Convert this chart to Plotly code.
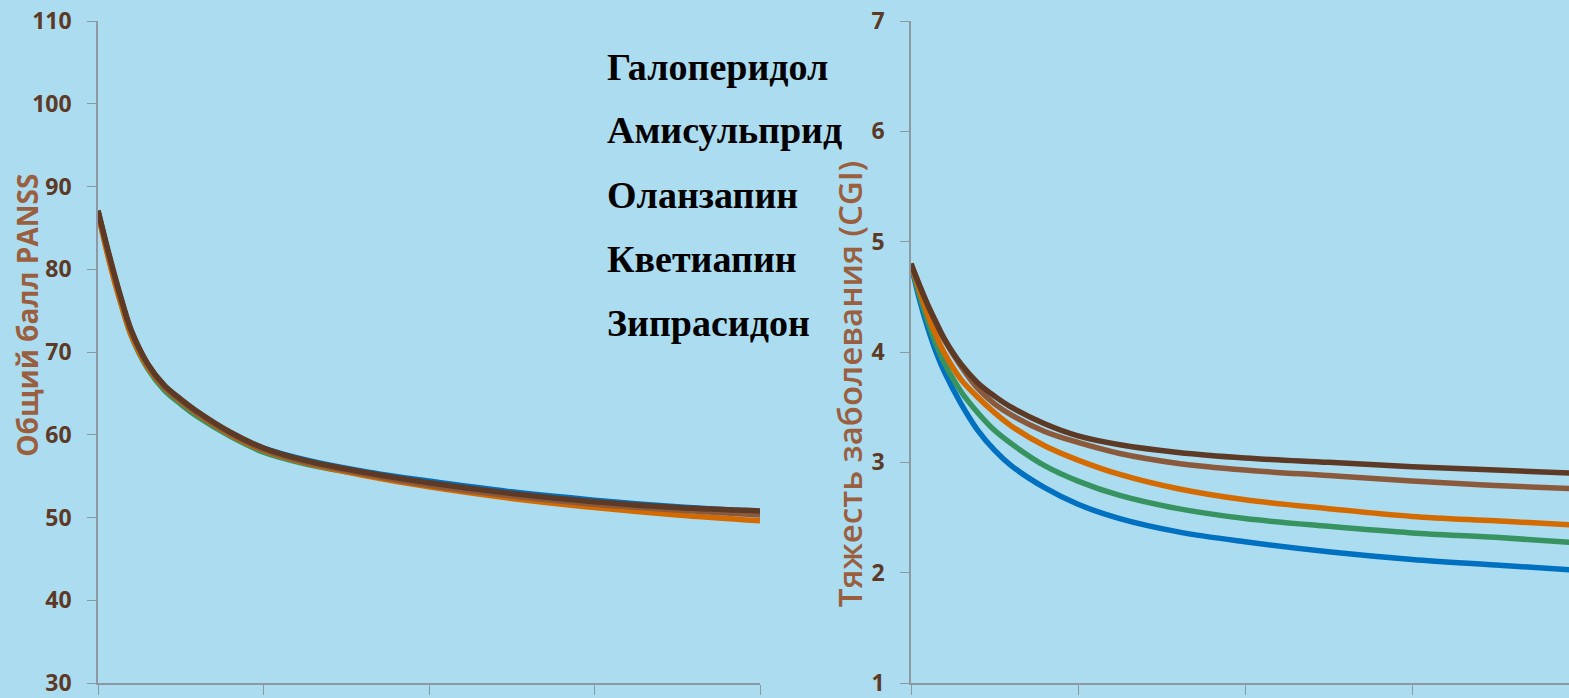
import plotly.graph_objects as go

# Time points (arbitrary units along the unlabeled x axis)
t = [0, 0.05, 0.1, 0.15, 0.2, 0.3, 0.4, 0.5, 0.6, 0.8, 1.0, 1.25, 1.6, 2.0, 2.5, 3.0, 3.5, 4.0]

drugs = ["Галоперидол", "Амисульприд", "Оланзапин", "Кветиапин", "Зипрасидон"]

# Total PANSS score
panss_blue = [87.0, 82.9, 79.1, 75.6, 72.5, 68.5, 65.9, 64.2, 62.7, 60.2, 58.4, 57.0, 55.6, 54.4, 53.1, 52.1, 51.3, 50.7]
panss_green = [86.9, 82.6, 78.7, 75.1, 72.0, 68.0, 65.4, 63.7, 62.2, 59.8, 57.9, 56.5, 55.2, 54.0, 52.8, 51.8, 51.0, 50.5]
panss_orange = [86.8, 82.4, 78.5, 75.1, 72.1, 68.2, 65.7, 64.0, 62.5, 60.0, 58.1, 56.6, 55.1, 53.7, 52.3, 51.2, 50.3, 49.6]
panss_ltbrown = [87.0, 82.9, 79.1, 75.6, 72.5, 68.4, 65.8, 64.1, 62.6, 60.1, 58.2, 56.7, 55.3, 53.9, 52.6, 51.6, 50.9, 50.3]
panss_dkbrown = [87.1, 83.1, 79.3, 75.8, 72.7, 68.6, 66.0, 64.3, 62.8, 60.3, 58.4, 56.9, 55.5, 54.2, 52.9, 51.9, 51.2, 50.8]

# CGI severity
cgi_blue = [4.80, 4.48, 4.22, 4.00, 3.82, 3.53, 3.29, 3.11, 2.97, 2.77, 2.62, 2.49, 2.37, 2.28, 2.19, 2.12, 2.07, 2.02]
cgi_green = [4.80, 4.52, 4.28, 4.07, 3.90, 3.64, 3.45, 3.29, 3.17, 2.97, 2.83, 2.70, 2.58, 2.49, 2.42, 2.36, 2.32, 2.27]
cgi_orange = [4.80, 4.56, 4.34, 4.15, 3.99, 3.75, 3.59, 3.45, 3.33, 3.15, 3.02, 2.89, 2.76, 2.66, 2.58, 2.51, 2.47, 2.43]
cgi_ltbrown = [4.80, 4.60, 4.42, 4.26, 4.11, 3.87, 3.67, 3.53, 3.43, 3.28, 3.18, 3.08, 2.99, 2.93, 2.88, 2.83, 2.79, 2.76]
cgi_dkbrown = [4.80, 4.61, 4.43, 4.27, 4.12, 3.89, 3.72, 3.60, 3.50, 3.35, 3.24, 3.16, 3.09, 3.04, 3.00, 2.96, 2.93, 2.90]

colors = ["#0070C0", "#379461", "#D46B00", "#8B5A3C", "#5C3A26"]
panss_series = [panss_blue, panss_green, panss_orange, panss_ltbrown, panss_dkbrown]
cgi_series = [cgi_blue, cgi_green, cgi_orange, cgi_ltbrown, cgi_dkbrown]

BG = "#ACDCF0"
AXIS = "#8D99A2"
TICK_TXT = "#5C3A26"
TITLE_TXT = "#9A5F3E"

W, H = 1569, 698
fig = go.Figure()

for name, col, ys in zip(drugs, colors, panss_series):
    fig.add_trace(go.Scatter(x=t, y=ys, mode="lines", name=name,
                             line=dict(color=col, width=5.5, shape="spline", smoothing=1.0),
                             xaxis="x", yaxis="y", showlegend=False))
for name, col, ys in zip(drugs, colors, cgi_series):
    fig.add_trace(go.Scatter(x=t, y=ys, mode="lines", name=name,
                             line=dict(color=col, width=5.5, shape="spline", smoothing=1.0),
                             xaxis="x2", yaxis="y2", showlegend=False))

tickfont = dict(family="Open Sans", size=23, color=TICK_TXT, weight="bold")
xcommon = dict(showline=True, linecolor=AXIS, linewidth=1.5, ticks="outside", ticklen=10,
               tickcolor=AXIS, tickvals=[0, 1, 2, 3, 4], showticklabels=False,
               showgrid=False, zeroline=False)
ycommon = dict(showline=True, linecolor=AXIS, linewidth=1.5, ticks="outside", ticklen=9,
               tickcolor=AXIS, tickfont=tickfont, showgrid=False, zeroline=False,
               ticklabelstandoff=11, ticklabeloverflow="allow")

fig.update_layout(
    width=W, height=H,
    margin=dict(l=0, r=0, t=21, b=10),
    paper_bgcolor=BG, plot_bgcolor=BG,
    xaxis=dict(domain=[98 / W, 760 / W], range=[0, 4], **xcommon),
    yaxis=dict(range=[30, 110], dtick=10, anchor="x", **ycommon),
    xaxis2=dict(domain=[911 / W, 1.0], range=[0, 3.94], anchor="y2", **xcommon),
    yaxis2=dict(range=[1, 7], dtick=1, anchor="x2", **ycommon),
    showlegend=False,
)

plot_h = H - 21 - 10


def py(pix):
    return (H - 10 - pix) / plot_h


annotations = [
    dict(text="Общий балл PANSS", x=27 / W, y=py(318), xref="paper", yref="paper",
         textangle=-90, showarrow=False, xanchor="center", yanchor="middle",
         font=dict(family="Open Sans", size=28, color=TITLE_TXT, weight="bold")),
    dict(text="Тяжесть заболевания (CGI)", x=849 / W, y=py(387), xref="paper", yref="paper",
         textangle=-90, showarrow=False, xanchor="center", yanchor="middle",
         font=dict(family="Open Sans", size=33, color=TITLE_TXT, weight=600)),
]
legend_y = [67, 131, 196, 261, 325]
for name, yy in zip(drugs, legend_y):
    annotations.append(dict(text=name, x=605 / W, y=py(yy), xref="paper", yref="paper",
                            showarrow=False, xanchor="left", yanchor="middle",
                            font=dict(family="Liberation Serif", size=38, color="#000000",
                                      weight="bold")))
fig.update_layout(annotations=annotations)

fig.write_html("out.html")
